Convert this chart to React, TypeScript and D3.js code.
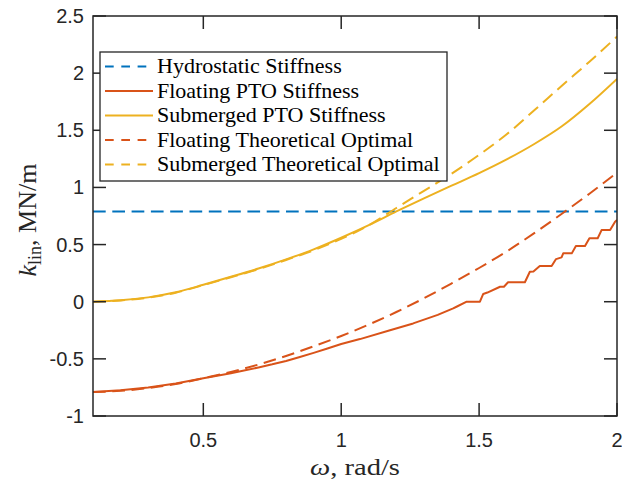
import React from "react";
import * as d3 from "d3";

// ---- data ----
const hydroW = [0.1, 2.0];
const hydroK = [0.79, 0.79];

const floatPtoW = [0.1, 0.2, 0.3, 0.4, 0.5, 0.6, 0.7, 0.75, 0.8, 0.85, 0.9, 0.95, 1.0, 1.068, 1.177, 1.261, 1.35, 1.406, 1.418, 1.455, 1.503, 1.515, 1.53, 1.576, 1.59, 1.605, 1.666, 1.684, 1.697, 1.72, 1.763, 1.779, 1.799, 1.805, 1.836, 1.851, 1.884, 1.9, 1.93, 1.944, 1.975, 1.993, 2.0];
const floatPtoK = [-0.79, -0.775, -0.75, -0.715, -0.67, -0.625, -0.575, -0.548, -0.518, -0.484, -0.448, -0.41, -0.37, -0.327, -0.25, -0.19, -0.115, -0.058, -0.044, 0.0, 0.0, 0.068, 0.08, 0.131, 0.131, 0.17, 0.17, 0.262, 0.265, 0.312, 0.312, 0.373, 0.388, 0.423, 0.423, 0.487, 0.487, 0.555, 0.555, 0.627, 0.627, 0.70, 0.715];

const subPtoW = [0.1, 0.2, 0.3, 0.4, 0.5, 0.6, 0.7, 0.8, 0.9, 1.0, 1.1, 1.2, 1.3, 1.4, 1.5, 1.6, 1.7, 1.8, 1.9, 2.0];
const subPtoK = [0.0, 0.012, 0.038, 0.082, 0.148, 0.218, 0.29, 0.37, 0.458, 0.56, 0.67, 0.79, 0.905, 1.015, 1.125, 1.245, 1.38, 1.535, 1.73, 1.95];

const floatOptW = [0.1, 0.2, 0.3, 0.4, 0.5, 0.6, 0.7, 0.8, 0.9, 1.0, 1.1, 1.2, 1.3, 1.4, 1.5, 1.6, 1.7, 1.8, 1.9, 2.0];
const floatOptK = [-0.79, -0.78, -0.755, -0.72, -0.67, -0.615, -0.55, -0.475, -0.39, -0.3, -0.2, -0.09, 0.03, 0.16, 0.295, 0.44, 0.6, 0.77, 0.945, 1.13];

const subOptW = [0.1, 0.2, 0.3, 0.4, 0.5, 0.6, 0.7, 0.8, 0.9, 1.0, 1.1, 1.2, 1.3, 1.4, 1.5, 1.6, 1.7, 1.8, 1.9, 2.0];
const subOptK = [0.0, 0.011, 0.036, 0.079, 0.145, 0.214, 0.285, 0.365, 0.45, 0.55, 0.67, 0.82, 0.97, 1.12, 1.285, 1.465, 1.675, 1.89, 2.1, 2.32];

const xTicks = [0.5, 1, 1.5, 2];
const yTicks = [-1, -0.5, 0, 0.5, 1, 1.5, 2, 2.5];
const xTickLabels = ["0.5", "1", "1.5", "2"];
const yTickLabels = ["-1", "-0.5", "0", "0.5", "1", "1.5", "2", "2.5"];

const seriesNames = [
  "Hydrostatic Stiffness",
  "Floating PTO Stiffness",
  "Submerged PTO Stiffness",
  "Floating Theoretical Optimal",
  "Submerged Theoretical Optimal",
];

const BLUE = "#0072BD";
const RED = "#D95319";
const YELLOW = "#EDB120";

export default function App() {
  const W = 622, H = 483;
  const L = 93, R = 617, T = 16, B = 416;
  const x = d3.scaleLinear().domain([0.1, 2]).range([L, R]);
  const y = d3.scaleLinear().domain([-1, 2.5]).range([B, T]);
  const line = (ws: number[], ks: number[], smooth: boolean) =>
    d3
      .line<number>()
      .x((_, i) => x(ws[i]))
      .y((d) => y(d))
      .curve(smooth ? d3.curveMonotoneX : d3.curveLinear)(ks) || "";

  const series = [
    { w: hydroW, k: hydroK, color: BLUE, dash: true, smooth: false },
    { w: floatPtoW, k: floatPtoK, color: RED, dash: false, smooth: false },
    { w: subPtoW, k: subPtoK, color: YELLOW, dash: false, smooth: true },
    { w: floatOptW, k: floatOptK, color: RED, dash: true, smooth: true },
    { w: subOptW, k: subOptK, color: YELLOW, dash: true, smooth: true },
  ];

  const axisColor = "#262626";
  const tickLen = 13;
  const sans = "'Liberation Sans', Arial, sans-serif";
  const serif = "'Liberation Serif', 'Times New Roman', serif";

  const legX = 100, legY = 52, legW = 347, legH = 129;
  const rowY0 = 66.5, rowDy = 24.5;

  return (
    <svg width={W} height={H} style={{ position: "absolute", left: 0, top: 0, background: "#fff" }}>
      <rect x={0} y={0} width={W} height={H} fill="#fff" />
      <defs>
        <clipPath id="plotclip">
          <rect x={L} y={T} width={R - L} height={B - T} />
        </clipPath>
      </defs>
      <g clipPath="url(#plotclip)">
        {series.map((s, i) => (
          <path
            key={i}
            d={line(s.w, s.k, s.smooth)}
            fill="none"
            stroke={s.color}
            strokeWidth={2}
            strokeDasharray={s.dash ? "12.7 6.6" : undefined}
            strokeLinejoin="round"
          />
        ))}
      </g>
      {/* axes box */}
      <rect x={L} y={T} width={R - L} height={B - T} fill="none" stroke={axisColor} strokeWidth={1.5} />
      {xTicks.map((t, i) => (
        <g key={"xt" + i}>
          <line x1={x(t)} x2={x(t)} y1={B} y2={B - tickLen} stroke={axisColor} strokeWidth={1.5} />
          <line x1={x(t)} x2={x(t)} y1={T} y2={T + tickLen} stroke={axisColor} strokeWidth={1.5} />
          <text x={x(t)} y={447} textAnchor="middle" fontFamily={sans} fontSize={20} fill={axisColor}>
            {xTickLabels[i]}
          </text>
        </g>
      ))}
      {yTicks.map((t, i) => (
        <g key={"yt" + i}>
          <line x1={L} x2={L + tickLen} y1={y(t)} y2={y(t)} stroke={axisColor} strokeWidth={1.5} />
          <line x1={R} x2={R - tickLen} y1={y(t)} y2={y(t)} stroke={axisColor} strokeWidth={1.5} />
          <text x={84} y={y(t) + 7} textAnchor="end" fontFamily={sans} fontSize={20} fill={axisColor}>
            {yTickLabels[i]}
          </text>
        </g>
      ))}
      {/* axis labels */}
      <text x={355} y={475} textAnchor="middle" fontFamily={serif} fontSize={23} fill={axisColor} textLength={90} lengthAdjust="spacingAndGlyphs">
        <tspan fontStyle="italic">ω</tspan>, rad/s
      </text>
      <text
        transform="translate(36,220) rotate(-90)"
        textAnchor="middle"
        fontFamily={serif}
        fontSize={26}
        fill={axisColor}
      >
        <tspan fontStyle="italic">k</tspan>
        <tspan fontSize={18} dy={5}>lin</tspan>
        <tspan dy={-5}>, MN/m</tspan>
      </text>
      {/* legend */}
      <rect x={legX} y={legY} width={legW} height={legH} fill="#fff" stroke={axisColor} strokeWidth={1.3} />
      {series.map((s, i) => (
        <g key={"lg" + i}>
          <line
            x1={105}
            x2={153}
            y1={rowY0 + i * rowDy}
            y2={rowY0 + i * rowDy}
            stroke={s.color}
            strokeWidth={2}
            strokeDasharray={s.dash ? "8.7 7.6" : undefined}
          />
          <text x={157} y={rowY0 + i * rowDy + 6.5} fontFamily={serif} fontSize={22} fill="#000">
            {seriesNames[i]}
          </text>
        </g>
      ))}
    </svg>
  );
}
